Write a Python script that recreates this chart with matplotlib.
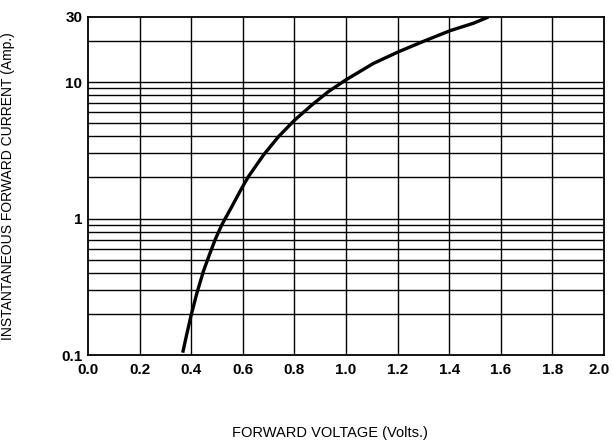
import matplotlib
matplotlib.use("Agg")
import matplotlib.pyplot as plt
import matplotlib.transforms as mtransforms
from matplotlib.ticker import FixedLocator, NullFormatter

# === Curve (forward voltage vs. current) ===
volts = [0.367, 0.382, 0.398, 0.421, 0.447, 0.47, 0.492, 0.518, 0.557,
         0.595, 0.621, 0.68, 0.738, 0.80, 0.867, 0.931, 1.0, 1.106,
         1.204, 1.306, 1.403, 1.494, 1.552]
amps = [0.104, 0.14, 0.19, 0.28, 0.41, 0.54, 0.695, 0.896, 1.22,
        1.66, 2.02, 2.92, 3.98, 5.25, 6.78, 8.5, 10.4, 13.7,
        16.7, 20.1, 23.8, 27.0, 30.0]

x_ticks = [0.0, 0.2, 0.4, 0.6, 0.8, 1.0, 1.2, 1.4, 1.6, 1.8, 2.0]
y_ticks = [0.1, 1, 10, 30]
y_tick_labels = ["0.1", "1", "10", "30"]
y_grid = [0.2, 0.3, 0.4, 0.5, 0.6, 0.7, 0.8, 0.9, 1,
          2, 3, 4, 5, 6, 7, 8, 9, 10, 20]

plt.rcParams['font.family'] = ['Liberation Sans', 'DejaVu Sans']

fig = plt.figure(figsize=(6.13, 4.45), dpi=100)
ax = fig.add_axes([0.1436, 0.2022, 0.8417, 0.7596])

ax.set_yscale('log')
ax.set_xlim(0, 2.0)
ax.set_ylim(0.1, 30)

# grid lines
for xv in x_ticks[1:-1]:
    ax.axvline(xv, color='black', lw=1.0, zorder=1)
for yv in y_grid:
    ax.axhline(yv, color='black', lw=1.0, zorder=1)

ax.plot(volts, amps, color='black', lw=2.4, solid_capstyle='butt',
        solid_joinstyle='round', zorder=3)

ax.xaxis.set_major_locator(FixedLocator(x_ticks))
ax.set_xticklabels([f"{v:.1f}" for v in x_ticks])
ax.yaxis.set_major_locator(FixedLocator(y_ticks))
ax.yaxis.set_minor_locator(FixedLocator([]))
ax.yaxis.set_minor_formatter(NullFormatter())
ax.set_yticklabels(y_tick_labels)
ax.tick_params(axis='x', length=0, labelsize=11, pad=6)
ax.tick_params(axis='y', length=0, labelsize=11, pad=4)
for lab in ax.get_xticklabels() + ax.get_yticklabels():
    lab.set_fontweight('bold')

# last x label sits a little left of its grid line, as in the original
last = ax.get_xticklabels()[-1]
last.set_transform(last.get_transform() +
                   mtransforms.ScaledTranslation(-5 / 100, 0, fig.dpi_scale_trans))

for sp in ax.spines.values():
    sp.set_linewidth(1.3)

ax.set_ylabel('INSTANTANEOUS FORWARD CURRENT (Amp.)', fontsize=10)
ax.yaxis.set_label_coords(-0.141, 0.5)
fig.text(0.538, 0.027, 'FORWARD VOLTAGE (Volts.)', fontsize=10.5,
         ha='center', va='center')

fig.savefig('out.png', dpi=100)
